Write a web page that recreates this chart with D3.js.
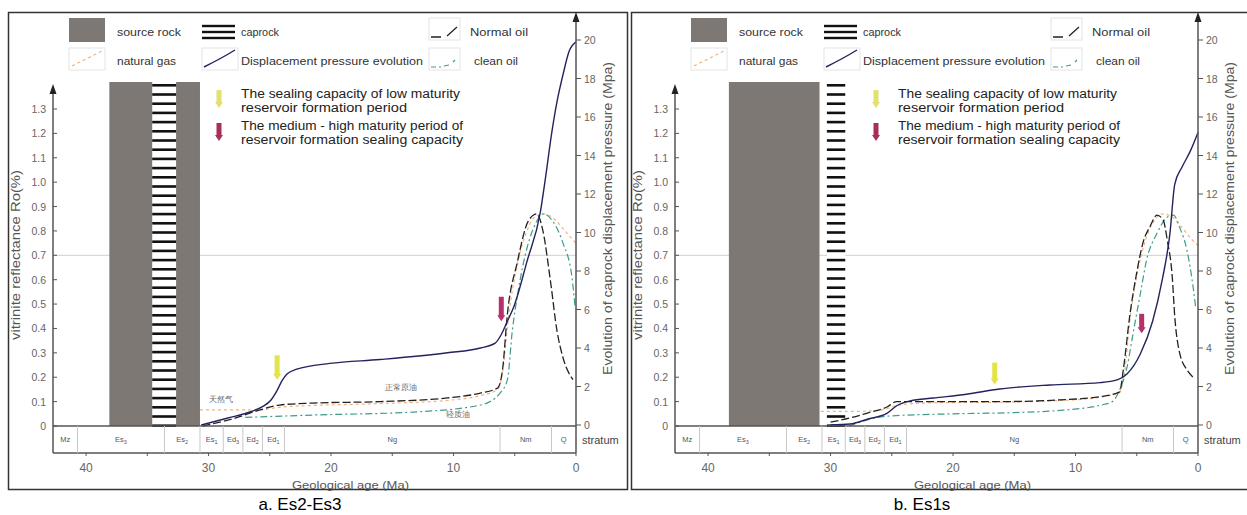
<!DOCTYPE html>
<html><head><meta charset="utf-8">
<script src="https://cdn.jsdelivr.net/npm/d3@7"></script>
<style>body{margin:0;background:#fff}svg{display:block}text{font-family:"Liberation Sans",Arial,sans-serif}</style>
</head><body><svg id="c" width="1247" height="515"></svg>
<script>
// ---------- data ----------
const ageTicks = [40, 30, 20, 10, 0];
const ageMinor = [35, 25, 15, 5];
const roTicks = [0, 0.1, 0.2, 0.3, 0.4, 0.5, 0.6, 0.7, 0.8, 0.9, 1.0, 1.1, 1.2, 1.3];
const pTicks = [0, 2, 4, 6, 8, 10, 12, 14, 16, 18, 20];
const strataNames = ["Mz", "Es3", "Es2", "Es1", "Ed3", "Ed2", "Ed1", "Ng", "Nm", "Q"];
const strataBounds = [42.7, 40.7, 33.6, 30.7, 28.8, 27.2, 25.6, 23.8, 6.2, 2.0, 0];
const legendItems = ["source rock", "caprock", "Normal oil", "natural gas", "Displacement pressure evolution", "clean oil"];
const arrowTexts = [["The sealing capacity of low maturity", "reservoir formation period"],
                    ["The medium - high maturity period of", "reservoir formation sealing capacity"]];
const captions = ["a. Es2-Es3", "b. Es1s"];
const cnLabels = ["天然气", "正常原油", "轻质油"];

// Panel a series (age Ma, value)
const dispA_age = [30.6, 28.5, 26.5, 25.6, 24.9, 24.4, 24.0, 23.6, 22.8, 20.1, 16.0, 10.5, 7.8, 6.6, 6.1, 5.6, 5.1, 4.0, 2.9, 2.5, 2.0, 1.55, 1.06, 0.57, 0];
const dispA_mpa = [0, 0.35, 0.7, 0.95, 1.3, 1.8, 2.3, 2.65, 2.9, 3.2, 3.4, 3.75, 4.0, 4.25, 4.7, 5.4, 6.1, 8.5, 11.1, 12.8, 15.1, 16.8, 18.2, 19.4, 19.9];
const oilA_age = [30.5, 28.0, 25.8, 24.2, 21.5, 16.0, 10.5, 7.8, 6.4, 6.0, 5.6, 4.8, 3.9, 3.2, 2.7, 2.1, 1.55, 1.06, 0.25];
const oilA_ro  = [0.0, 0.03, 0.066, 0.086, 0.094, 0.10, 0.115, 0.135, 0.156, 0.23, 0.46, 0.67, 0.84, 0.87, 0.80, 0.60, 0.39, 0.28, 0.19];
const gasA_age = [30.7, 28.0, 26.0, 24.0, 21.0, 16.0, 10.5, 7.8, 6.4, 6.0, 5.5, 4.8, 4.0, 3.3, 2.6, 1.8, 0.9, 0];
const gasA_ro  = [0.066, 0.066, 0.066, 0.078, 0.085, 0.092, 0.105, 0.125, 0.15, 0.22, 0.45, 0.66, 0.80, 0.86, 0.87, 0.85, 0.80, 0.75];
const cleanA_age = [27.0, 21.5, 13.3, 7.8, 6.2, 5.6, 5.2, 4.7, 4.0, 3.2, 2.7, 1.9, 1.06, 0.33, 0.08];
const cleanA_ro  = [0.035, 0.045, 0.057, 0.086, 0.135, 0.19, 0.39, 0.56, 0.73, 0.84, 0.87, 0.84, 0.75, 0.61, 0.49];

// Panel b series
const dispB_age = [30.0, 28.4, 27.0, 25.4, 24.6, 23.5, 21.6, 18.9, 16.2, 12.1, 8.0, 6.6, 5.8, 4.7, 3.7, 2.9, 2.3, 1.9, 1.3, 0.65, 0];
const dispB_mpa = [0, 0.05, 0.3, 0.6, 1.0, 1.25, 1.4, 1.6, 1.87, 2.08, 2.2, 2.34, 2.65, 3.7, 5.4, 7.6, 9.9, 12.5, 13.4, 14.2, 15.2];
const oilB_age = [30.0, 28.4, 27.0, 25.4, 24.6, 22.9, 16.2, 11.3, 8.0, 6.4, 6.1, 5.55, 5.0, 4.5, 3.9, 3.35, 2.85, 2.5, 2.1, 1.9, 1.5, 0.9, 0.4];
const oilB_ro  = [0.016, 0.033, 0.053, 0.078, 0.1, 0.1, 0.1, 0.107, 0.12, 0.14, 0.23, 0.46, 0.63, 0.75, 0.82, 0.865, 0.845, 0.76, 0.61, 0.45, 0.30, 0.23, 0.2];
const gasB_age = [30.8, 28.0, 25.9, 24.5, 22.0, 16.0, 11.0, 8.0, 6.4, 6.0, 5.5, 4.9, 4.3, 3.6, 2.9, 2.2, 1.4, 0.6, 0];
const gasB_ro  = [0.06, 0.06, 0.065, 0.085, 0.095, 0.098, 0.105, 0.118, 0.138, 0.22, 0.46, 0.64, 0.76, 0.84, 0.87, 0.86, 0.82, 0.77, 0.74];
const cleanB_age = [28.5, 25.5, 20.0, 15.0, 11.0, 8.0, 7.0, 6.4, 5.8, 5.3, 4.7, 4.2, 3.35, 2.5, 2.0, 1.5, 0.9, 0.4, 0.2];
const cleanB_ro  = [0.0, 0.04, 0.05, 0.055, 0.065, 0.085, 0.1, 0.148, 0.24, 0.38, 0.545, 0.68, 0.79, 0.857, 0.865, 0.815, 0.72, 0.57, 0.49];

// source rock / caprock intervals (Ma)
const sourceA = [38.1, 30.7], capA = [34.6, 32.65];
const sourceB = [38.3, 30.9], capB = [30.3, 28.8];
// arrow markers: [age, RoTop, RoBottom]
const yellowA = [24.4, 0.29, 0.19], redA = [6.1, 0.53, 0.43];
const yellowB = [16.6, 0.26, 0.17], redB = [4.6, 0.46, 0.38];

// ---------- drawing ----------
const svg = d3.select("#c");
const C = {navy:"#23235f", oil:"#222", gas:"#efb47e", clean:"#3f9c88", grey:"#7d7873", axis:"#555", tick:"#666"};
const zip = (a, b) => a.map((v, i) => [v, b[i]]);
function fit(t, len) { t.attr("textLength", len).attr("lengthAdjust", "spacingAndGlyphs"); return t; }

function panel(ox, P) {
  const g = svg.append("g").attr("transform", `translate(${ox},0)`);
  const x = d3.scaleLinear().domain([42.7, 0]).range([53, 576]);
  const yR = d3.scaleLinear().domain([0, 1.3]).range([426, 109]);
  const yP = d3.scaleLinear().domain([0, 20]).range([425, 40]);

  // 0.7 reference line
  g.append("line").attr("x1", x(42.7)).attr("x2", x(0)).attr("y1", yR(0.7)).attr("y2", yR(0.7))
    .attr("stroke", "#cfcfcf").attr("stroke-width", 1);

  // source rock bar
  const barTop = 82;
  g.append("rect").attr("x", x(P.source[0])).attr("width", x(P.source[1]) - x(P.source[0]))
    .attr("y", barTop).attr("height", yR(0) - barTop).attr("fill", C.grey);
  // caprock stripes
  const cx0 = x(P.cap[0]), cx1 = x(P.cap[1]);
  g.append("rect").attr("x", cx0).attr("width", cx1 - cx0).attr("y", barTop).attr("height", yR(0) - barTop).attr("fill", "#fff");
  const stripes = d3.range(barTop + 2, yR(0), 9.2);
  g.selectAll(null).data(stripes).join("rect").attr("x", cx0).attr("width", cx1 - cx0)
    .attr("y", d => d).attr("height", 2.6).attr("fill", "#111");

  // curves
  const line = (yS) => d3.line().x(d => x(d[0])).y(d => yS(d[1])).curve(d3.curveMonotoneX);
  g.append("path").attr("d", line(yR)(zip(P.gasAge, P.gasRo))).attr("fill", "none")
    .attr("stroke", C.gas).attr("stroke-width", 1.2).attr("stroke-dasharray", "3,3");
  g.append("path").attr("d", line(yR)(zip(P.cleanAge, P.cleanRo))).attr("fill", "none")
    .attr("stroke", C.clean).attr("stroke-width", 1.2).attr("stroke-dasharray", "7,3,2,3");
  g.append("path").attr("d", line(yR)(zip(P.oilAge, P.oilRo))).attr("fill", "none")
    .attr("stroke", C.oil).attr("stroke-width", 1.3).attr("stroke-dasharray", "8,3");
  g.append("path").attr("d", line(yP)(zip(P.dispAge, P.dispP))).attr("fill", "none")
    .attr("stroke", C.navy).attr("stroke-width", 1.4);

  // arrows in plot
  function arrow(ax, ytop, ybot, col) {
    g.append("rect").attr("x", ax - 2.5).attr("y", ytop).attr("width", 5).attr("height", ybot - ytop - 5).attr("fill", col);
    g.append("path").attr("d", `M${ax - 4},${ybot - 6}L${ax + 4},${ybot - 6}L${ax},${ybot}Z`).attr("fill", col);
  }
  arrow(x(P.yellow[0]), yR(P.yellow[1]), yR(P.yellow[2]), "#e3e34a");
  arrow(x(P.red[0]), yR(P.red[1]), yR(P.red[2]), "#b8306a");

  // stratum band
  const sb = 453;
  g.append("line").attr("x1", 53).attr("x2", 576).attr("y1", yR(0)).attr("y2", yR(0)).attr("stroke", C.axis).attr("stroke-width", 1.5);
  g.append("line").attr("x1", 53).attr("x2", 576).attr("y1", sb).attr("y2", sb).attr("stroke", C.axis).attr("stroke-width", 1.5);
  g.selectAll(null).data(strataBounds.slice(1, -1)).join("line")
    .attr("x1", d => x(d)).attr("x2", d => x(d)).attr("y1", yR(0)).attr("y2", sb).attr("stroke", "#c8c8c8");
  strataNames.forEach((n, i) => {
    const mid = (x(strataBounds[i]) + x(strataBounds[i + 1])) / 2;
    const t = g.append("text").attr("x", mid).attr("y", 442).attr("text-anchor", "middle")
      .attr("font-size", 7.5).attr("fill", "#555");
    const m = n.match(/^([A-Za-z]+)(\d?)$/);
    t.append("tspan").text(m[1]);
    if (m[2]) t.append("tspan").attr("dy", 2).attr("font-size", 5.5).text(m[2]);
  });
  g.append("text").attr("x", 582).attr("y", 444).attr("font-size", 11).attr("fill", "#444").text("stratum");

  // bottom age axis
  g.selectAll(null).data(ageTicks.concat(ageMinor)).join("line")
    .attr("x1", d => x(d)).attr("x2", d => x(d)).attr("y1", sb).attr("y2", sb + 3).attr("stroke", C.axis);
  g.selectAll(null).data(ageTicks).join("text").attr("x", d => x(d)).attr("y", 472)
    .attr("text-anchor", "middle").attr("font-size", 12).attr("fill", C.tick).text(d => d);
  fit(g.append("text").attr("x", 292).attr("y", 489).attr("font-size", 11.5).attr("fill", "#555")
    .text("Geological age (Ma)"), 117);

  // left Ro axis
  g.append("line").attr("x1", 53).attr("x2", 53).attr("y1", sb).attr("y2", 92).attr("stroke", C.axis).attr("stroke-width", 1.5);
  g.append("path").attr("d", "M49.5,94L56.5,94L53,84Z").attr("fill", "#222");
  g.selectAll(null).data(roTicks).join("line").attr("x1", 53).attr("x2", 57)
    .attr("y1", d => yR(d)).attr("y2", d => yR(d)).attr("stroke", C.axis);
  g.selectAll(null).data(roTicks).join("text").attr("x", 46).attr("y", d => yR(d) + 4)
    .attr("text-anchor", "end").attr("font-size", 10.5).attr("fill", C.tick).text(d => d === 0 ? "0" : d.toFixed(1));
  fit(g.append("text").attr("transform", "translate(20,340) rotate(-90)")
    .attr("font-size", 12).attr("fill", "#555").text("vitrinite reflectance Ro(%)"), 170);

  // right pressure axis
  g.append("line").attr("x1", 576).attr("x2", 576).attr("y1", sb).attr("y2", 20).attr("stroke", C.axis).attr("stroke-width", 1.5);
  g.append("path").attr("d", "M572.5,22L579.5,22L576,12Z").attr("fill", "#222");
  g.selectAll(null).data(pTicks).join("line").attr("x1", 576).attr("x2", 581)
    .attr("y1", d => yP(d)).attr("y2", d => yP(d)).attr("stroke", C.axis);
  g.selectAll(null).data(pTicks).join("text").attr("x", 584).attr("y", d => yP(d) + 4)
    .attr("font-size", 10.5).attr("fill", C.tick).text(d => d);
  fit(g.append("text").attr("transform", "translate(612,375) rotate(-90)")
    .attr("font-size", 12.5).attr("fill", "#555").text("Evolution of caprock displacement pressure (Mpa)"), 313);

  // legend
  const L = g.append("g");
  L.append("rect").attr("x", 69).attr("y", 18).attr("width", 36).attr("height", 24).attr("fill", C.grey);
  [26, 32, 38].forEach(yy => L.append("rect").attr("x", 202).attr("y", yy - 1.2).attr("width", 33).attr("height", 2.4).attr("fill", "#111"));
  [[69, 48], [202, 48], [429, 18], [429, 48]].forEach(([bx, by]) =>
    L.append("rect").attr("x", bx).attr("y", by).attr("width", bx === 429 ? 31 : 36).attr("height", 22).attr("fill", "none").attr("stroke", "#e4e4e4"));
  L.append("path").attr("d", "M72,66L102,51").attr("stroke", C.gas).attr("stroke-width", 1.2).attr("stroke-dasharray", "3,3").attr("fill", "none");
  L.append("path").attr("d", "M204,67Q222,58 235,50").attr("stroke", C.navy).attr("stroke-width", 1.4).attr("fill", "none");
  L.append("path").attr("d", "M431,37L441,37M447,36L457,27").attr("stroke", C.oil).attr("stroke-width", 1.3).attr("fill", "none");
  L.append("path").attr("d", "M431,67L436,67M439,67L441,67M444,66L449,65M453,62L455,60").attr("stroke", C.clean).attr("stroke-width", 1.2).attr("fill", "none");
  const lt = [[117, 32, 64], [241, 32, 38], [470, 32, 58], [117, 61, 59], [241, 61, 182], [474, 61, 44]];
  legendItems.forEach((s, i) => fit(L.append("text").attr("x", lt[i][0]).attr("y", lt[i][1] + 4)
    .attr("font-size", 11).attr("fill", "#333").text(s), lt[i][2]));
  // arrow legend
  const ax0 = P.legendShift;
  arrow(219 + ax0, 90, 108, "#e3e070");
  arrow(219 + ax0, 123, 141, "#a83058");
  const lens = [[219, 166], [222, 222]];
  arrowTexts.forEach((lines, i) => lines.forEach((s, j) =>
    fit(L.append("text").attr("x", 241 + ax0).attr("y", 97.5 + i * 32 + j * 14).attr("font-size", 12.5).attr("fill", "#222").text(s), lens[i][j])));

  // Chinese labels
  if (P.cn) {
    const pos = [[221, 402], [401, 390], [458, 417]];
    cnLabels.forEach((s, i) => g.append("text").attr("x", pos[i][0]).attr("y", pos[i][1]).attr("text-anchor", "middle")
      .attr("font-family", "Noto Sans CJK SC").attr("font-size", 8).attr("fill", "#666").text(s));
  }

  // caption
  g.append("text").attr("x", 300).attr("y", 510).attr("text-anchor", "middle")
    .attr("font-family", "Liberation Serif").attr("font-size", 17).attr("fill", "#000").text(P.caption);
}

svg.append("rect").attr("x", 8.5).attr("y", 12.5).attr("width", 619).attr("height", 477).attr("fill", "none").attr("stroke", "#333").attr("stroke-width", 1.5);
svg.append("rect").attr("x", 631.5).attr("y", 12.5).attr("width", 620).attr("height", 477).attr("fill", "none").attr("stroke", "#333").attr("stroke-width", 1.5);

panel(0, {source: sourceA, cap: capA, dispAge: dispA_age, dispP: dispA_mpa, oilAge: oilA_age, oilRo: oilA_ro,
  gasAge: gasA_age, gasRo: gasA_ro, cleanAge: cleanA_age, cleanRo: cleanA_ro, yellow: yellowA, red: redA, cn: true,
  legendShift: 0, caption: captions[0]});
panel(622, {source: sourceB, cap: capB, dispAge: dispB_age, dispP: dispB_mpa, oilAge: oilB_age, oilRo: oilB_ro,
  gasAge: gasB_age, gasRo: gasB_ro, cleanAge: cleanB_age, cleanRo: cleanB_ro, yellow: yellowB, red: redB, cn: false,
  legendShift: 35, caption: captions[1]});
</script></body></html>
